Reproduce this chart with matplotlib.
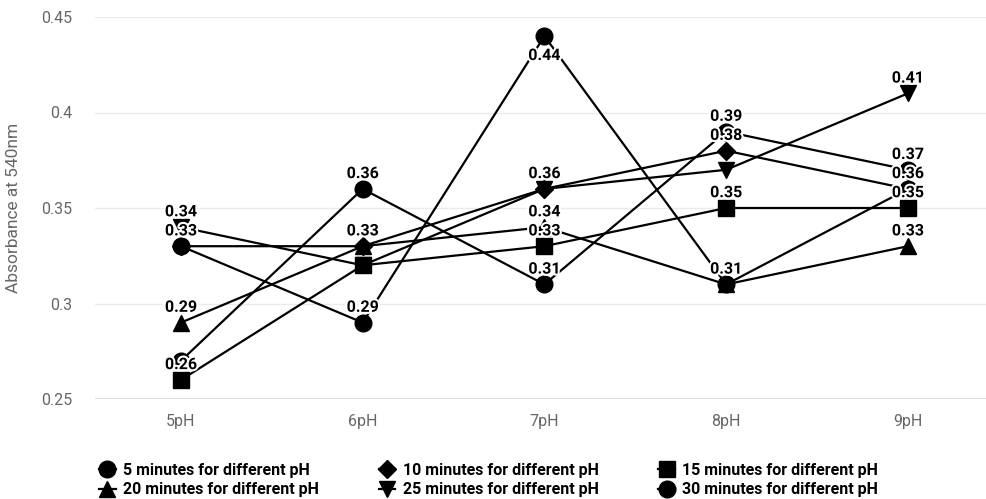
import matplotlib
matplotlib.use("Agg")
import matplotlib.pyplot as plt
import matplotlib.patheffects as pe
from matplotlib.lines import Line2D

plt.rcParams['font.family'] = ['Roboto', 'DejaVu Sans']

categories = ["5pH", "6pH", "7pH", "8pH", "9pH"]

series_names = [
    "5 minutes for different pH",
    "10 minutes for different pH",
    "15 minutes for different pH",
    "20 minutes for different pH",
    "25 minutes for different pH",
    "30 minutes for different pH",
]
series_markers = ["o", "D", "s", "^", "v", "o"]

min5 = [0.27, 0.36, 0.31, 0.39, 0.37]
min10 = [0.33, 0.33, 0.36, 0.38, 0.36]
min15 = [0.26, 0.32, 0.33, 0.35, 0.35]
min20 = [0.29, 0.33, 0.34, 0.31, 0.33]
min25 = [0.34, 0.32, 0.36, 0.37, 0.41]
min30 = [0.33, 0.29, 0.44, 0.31, 0.36]
series_values = [min5, min10, min15, min20, min25, min30]

# which point labels survive (overlapping ones are dropped)
show5 = [False, True, True, True, True]
show10 = [False, True, True, True, True]
show15 = [True, False, True, True, True]
show20 = [True, False, True, True, True]
show25 = [True, False, False, False, True]
show30 = [True, True, True, False, False]
series_show = [show5, show10, show15, show20, show25, show30]

W, H = 987, 499
fig = plt.figure(figsize=(W / 100, H / 100), dpi=100)
ax = fig.add_axes([95 / W, (H - 399) / H, (986 - 95) / W, 382 / H])

halo = [pe.withStroke(linewidth=3, foreground="white")]

x = list(range(len(categories)))
handles = []
for name, mk, vals, show in zip(series_names, series_markers, series_values, series_show):
    ms = 9.5 if mk == "D" else 12
    ax.plot(x, vals, color="black", lw=1.6, marker=mk, ms=ms,
            zorder=3, clip_on=False)
    handles.append(Line2D([], [], color="black", lw=1.6, marker=mk, ms=ms))

# value labels go on top of every line
for vals, show in zip(series_values, series_show):
    for xi, v, s in zip(x, vals, show):
        if not s:
            continue
        dy = -14 if v >= 0.44 else 11
        ax.annotate(f"{v:.2f}", (xi, v), xytext=(0, dy),
                    textcoords="offset points", ha="center", va="center",
                    fontsize=11.5, fontweight="bold", color="black",
                    zorder=5, path_effects=halo)

ax.set_xlim(-0.473, 4.43)
ax.set_ylim(0.25, 0.45)
ax.set_xticks(x)
ax.set_xticklabels(categories)
ax.set_yticks([0.25, 0.3, 0.35, 0.4, 0.45])
ax.set_yticklabels(["0.25", "0.3", "0.35", "0.4", "0.45"])
ax.tick_params(length=0, colors="#666666", labelsize=11.5)
ax.tick_params(axis="x", pad=11)
ax.tick_params(axis="y", pad=16.5)
ax.grid(axis="y", color="#ebebeb", lw=1)
ax.axhline(0.25, color="#d3d9de", lw=1.3, zorder=1)
for sp in ax.spines.values():
    sp.set_visible(False)
ax.set_ylabel("Absorbance at 540nm", color="#666666", fontsize=12.5)
ax.yaxis.set_label_coords(-(95 - 21) / (986 - 95), 0.5)

# legend laid out row by row
order = [0, 3, 1, 4, 2, 5]
leg = fig.legend([handles[i] for i in order], [series_names[i] for i in order],
                 ncol=3, loc="center left", bbox_to_anchor=(91 / W, (H - 480) / H),
                 frameon=False, borderpad=0, handlelength=1.05, handletextpad=0.45,
                 columnspacing=3.75, labelspacing=0.3,
                 prop={"weight": "bold", "size": 11.5})

fig.savefig("out.png", dpi=100)
